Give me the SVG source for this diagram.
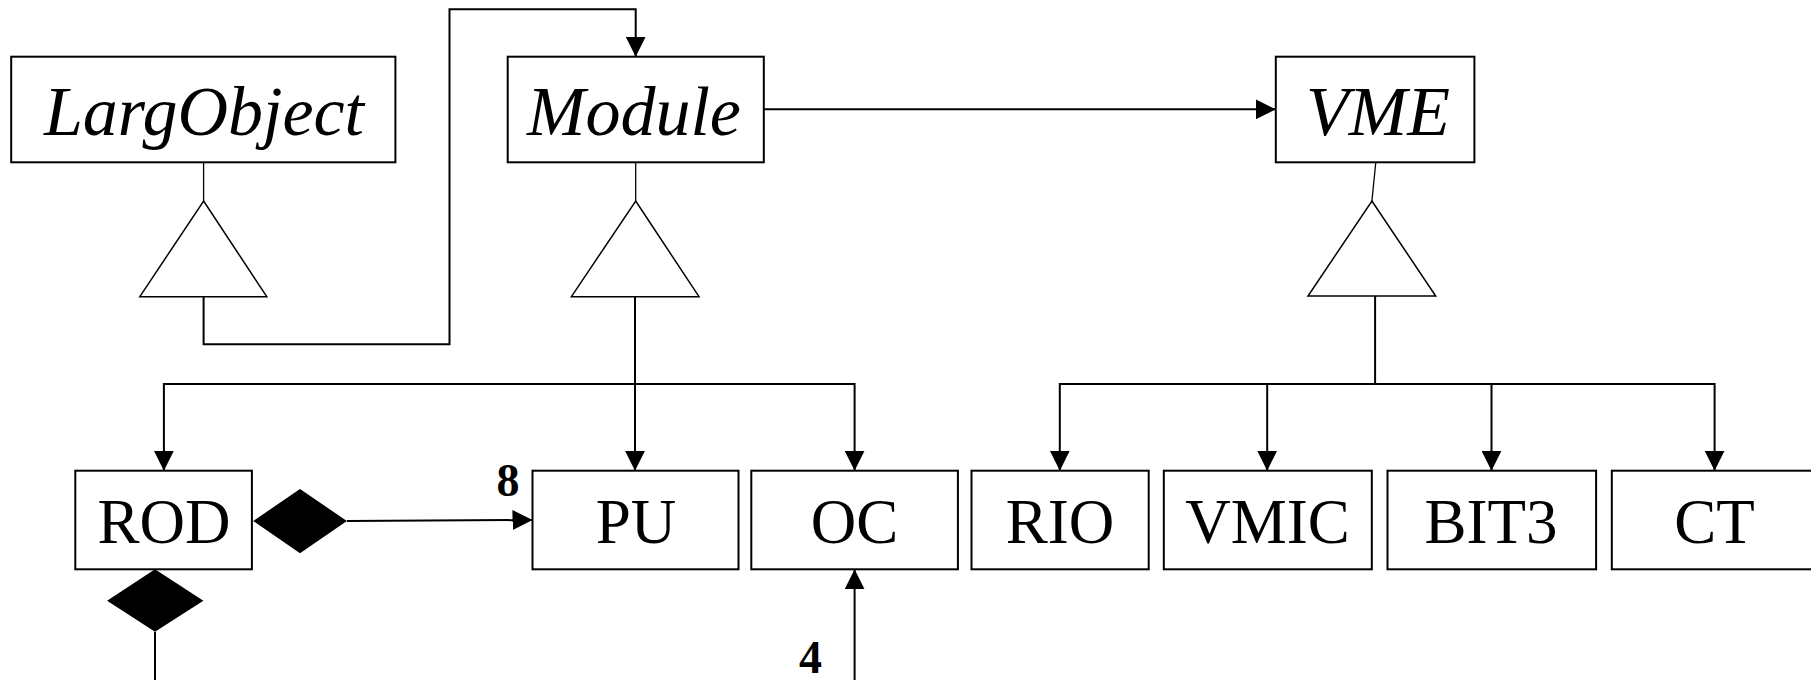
<svg xmlns="http://www.w3.org/2000/svg" width="1811" height="680" viewBox="0 0 1811 680">
<style>
.box{fill:#fff;stroke:#000;stroke-width:2}
.tri{fill:#fff;stroke:#000;stroke-width:1.5}
.ln{fill:none;stroke:#000;stroke-width:2}
.thin{fill:none;stroke:#000;stroke-width:1.3}
.it{font-family:"Liberation Serif",serif;font-style:italic;font-size:70px;text-anchor:middle}
.rg{font-family:"Liberation Serif",serif;font-size:63px;text-anchor:middle}
.num{font-family:"Liberation Serif",serif;font-weight:bold;font-size:46px;text-anchor:middle}
.dia{fill:#000;stroke:none}
</style>
<defs>
<marker id="arr" markerUnits="userSpaceOnUse" markerWidth="20" markerHeight="20" refX="20" refY="10" orient="auto" viewBox="0 0 20 20">
<path d="M0,0 L20,10 L0,20 z" fill="#000"/>
</marker>
</defs>
<g id="connectors">
<line class="thin" x1="203.6" y1="162.3" x2="203.6" y2="201"/>
<polygon class="tri" points="203.6,201 266.8,296.7 139.8,296.7"/>
<path class="ln" d="M203.6,296.7 V344.3 H449.5 V9.3 H635.7 V56.7" marker-end="url(#arr)"/>
<line class="thin" x1="635.7" y1="162.3" x2="635.7" y2="201"/>
<polygon class="tri" points="635.7,201 699,296.7 571.4,296.7"/>
<path class="ln" d="M635,296.7 V470.7" marker-end="url(#arr)"/>
<path class="ln" d="M635,384 H163.9 V470.7" marker-end="url(#arr)"/>
<path class="ln" d="M635,384 H854.6 V470.7" marker-end="url(#arr)"/>
<path class="ln" d="M763.8,109.3 H1275.8" marker-end="url(#arr)"/>
<line class="thin" x1="1375.8" y1="162.3" x2="1371.9" y2="201"/>
<polygon class="tri" points="1371.9,201 1435.7,296 1308,296"/>
<path class="ln" d="M1375.1,296 V384"/>
<path class="ln" d="M1375.1,384 H1059.8 V470.7" marker-end="url(#arr)"/>
<path class="ln" d="M1267.2,384 V470.7" marker-end="url(#arr)"/>
<path class="ln" d="M1375.1,384 H1714.6 V470.7" marker-end="url(#arr)"/>
<path class="ln" d="M1491.5,384 V470.7" marker-end="url(#arr)"/>
<polygon class="dia" points="253.2,521 300,489 346.9,521 300,553.3"/>
<path class="ln" d="M346.9,521 L532.5,520" marker-end="url(#arr)"/>
<polygon class="dia" points="155,569.3 203.4,600.7 155,631.7 107.1,600.7"/>
<line class="ln" x1="155" y1="631.7" x2="155" y2="680"/>
<path class="ln" d="M854.6,680 V569.3" marker-end="url(#arr)"/>
<text class="num" x="508" y="496">8</text>
<text class="num" x="810.6" y="673">4</text>
</g>
<g id="LargObject"><rect class="box" x="11.2" y="56.7" width="384.2" height="105.6"/><text class="it" x="204" y="135">LargObject</text></g>
<g id="Module"><rect class="box" x="507.7" y="56.7" width="256.1" height="105.6"/><text class="it" x="634" y="135">Module</text></g>
<g id="VME"><rect class="box" x="1275.8" y="56.7" width="198.6" height="105.6"/><text class="it" x="1378" y="135">VME</text></g>
<g id="ROD"><rect class="box" x="75.3" y="470.7" width="176.6" height="98.6"/><text class="rg" x="164" y="543.3">ROD</text></g>
<g id="PU"><rect class="box" x="532.5" y="470.7" width="206" height="98.6"/><text class="rg" x="636" y="543.3">PU</text></g>
<g id="OC"><rect class="box" x="751.3" y="470.7" width="206.6" height="98.6"/><text class="rg" x="854.6" y="543.3">OC</text></g>
<g id="RIO"><rect class="box" x="971.5" y="470.7" width="177.2" height="98.6"/><text class="rg" x="1060" y="543.3">RIO</text></g>
<g id="VMIC"><rect class="box" x="1163.8" y="470.7" width="208" height="98.6"/><text class="rg" x="1267.5" y="543.3">VMIC</text></g>
<g id="BIT3"><rect class="box" x="1387.5" y="470.7" width="208.6" height="98.6"/><text class="rg" x="1491" y="543.3">BIT3</text></g>
<g id="CT"><rect class="box" x="1611.8" y="470.7" width="210" height="98.6"/><text class="rg" x="1714.6" y="543.3">CT</text></g>
</svg>
